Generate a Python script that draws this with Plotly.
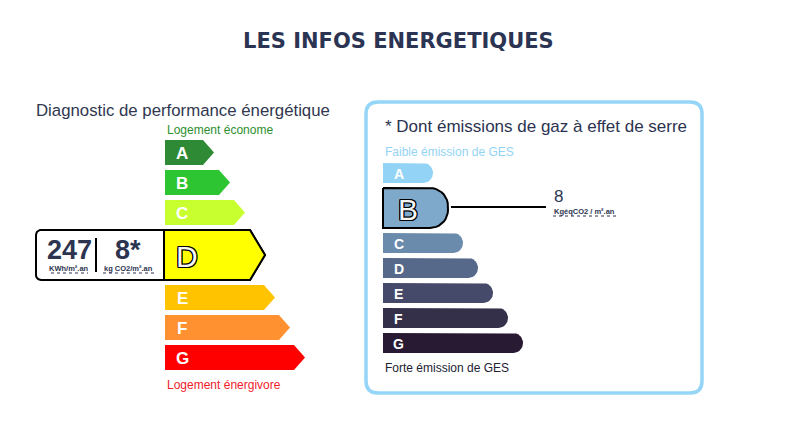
import numpy as np
import plotly.graph_objects as go

# ---------------- data ----------------
title_text = "LES INFOS ENERGETIQUES"
dpe_title = "Diagnostic de performance énergétique"
dpe_classes = ["A", "B", "C", "D", "E", "F", "G"]
dpe_lengths = [49, 65, 80, 100, 110, 125, 140]
dpe_colors = ["#2e8a34", "#2dc531", "#c7ff2f", "#ffff00", "#ffc300", "#ff9130", "#ff0000"]
dpe_rating = "D"
energy_value = "247"
energy_unit = "KWh/m².an"
ges_value_star = "8*"
ges_unit_short = "kg CO2/m².an"

ges_title = "* Dont émissions de gaz à effet de serre"
ges_classes = ["A", "B", "C", "D", "E", "F", "G"]
ges_lengths = [50, 65, 80, 95, 110, 125, 140]
ges_colors = ["#93d4f6", "#7ea9cb", "#6b8bac", "#56698a", "#45496a", "#34304a", "#291a33"]
ges_rating = "B"
ges_value = "8"
ges_unit = "KgéqCO2 / m².an"

FONT = "Liberation Sans, Arial, sans-serif"
NAVY = "#2c3450"
OUTLINE = ("1px 1px 0 #000, -1px -1px 0 #000, 1px -1px 0 #000, -1px 1px 0 #000, "
           "0 1px 0 #000, 0 -1px 0 #000, 1px 0 0 #000, -1px 0 0 #000")

# the page body has an 8px margin: axes are offset so that 1 unit = 1 page pixel
OFF = 8
W, H = 806 - 2 * OFF, 447 - 2 * OFF

fig = go.Figure()
ann = []


def poly(xs, ys, fill, line_color=None, line_width=0):
    fig.add_trace(go.Scatter(
        x=list(xs) + [xs[0]], y=list(ys) + [ys[0]], mode="lines", fill="toself",
        fillcolor=fill,
        line=dict(color=line_color or fill, width=line_width if line_color else 0),
        hoverinfo="skip", showlegend=False))


def text(x, y, s, size, color, xanchor="left", bold=False, family=FONT, shadow=None):
    f = dict(size=size, color=color, family=family)
    if bold:
        f["weight"] = "bold"
    if shadow:
        f["shadow"] = shadow
    ann.append(dict(x=x, y=y, xref="x", yref="y", text=s, showarrow=False,
                    xanchor=xanchor, yanchor="middle", font=f))


def arc(cx, cy, r, a0, a1, n=10):
    t = np.radians(np.linspace(a0, a1, n))
    return list(cx + r * np.cos(t)), list(cy + r * np.sin(t))


def dotted(xa, xb, yy):
    fig.add_trace(go.Scatter(x=[xa, xb], y=[yy, yy], mode="lines",
                             line=dict(color=NAVY, width=1, dash="dot"),
                             hoverinfo="skip", showlegend=False))


# ---------------- title ----------------
text(398, 41, title_text, 21, "#2b3453", xanchor="center", bold=True,
     family="DejaVu Sans, sans-serif")

# ---------------- DPE (left) ----------------
text(34, 110, dpe_title, 16.8, "#30374f")
text(165, 130, "Logement économe", 12, "#2d8f2d")

x0 = 165
y = 140
for cls, L, col in zip(dpe_classes, dpe_lengths, dpe_colors):
    hl = cls == dpe_rating
    h = 50 if hl else 25
    tip = 15 if hl else 11
    top, bot, mid = y, y + h, y + h / 2
    if hl:
        bx0, r = 36, 5
        xs = [bx0 + r, x0 + L - tip, x0 + L, x0 + L - tip]
        ys = [top, top, mid, bot]
        ax, ay = arc(bx0 + r, bot - r, r, 90, 180)
        xs += ax
        ys += ay
        ax, ay = arc(bx0 + r, top + r, r, 180, 270)
        xs += ax
        ys += ay
        poly(xs, ys, "#ffffff", "#000000", 2)
        poly([x0 - 1, x0 + L - tip, x0 + L, x0 + L - tip, x0 - 1],
             [top, top, mid, bot, bot], col, "#000000", 2)
        fig.add_trace(go.Scatter(x=[96, 96], y=[top + 8, bot - 8], mode="lines",
                                 line=dict(color="#000000", width=2),
                                 hoverinfo="skip", showlegend=False))
        text(69, mid - 5, energy_value, 27, NAVY, xanchor="center", bold=True)
        text(69, mid + 13, energy_unit, 7.5, NAVY, xanchor="center", bold=True)
        text(128, mid - 5, ges_value_star, 27, NAVY, xanchor="center", bold=True)
        text(128, mid + 13, ges_unit_short, 7.5, NAVY, xanchor="center", bold=True)
        dotted(51, 88, mid + 18)
        dotted(103, 154, mid + 18)
        text(187, mid + 1, cls, 30, "#f6f6f6", xanchor="center", shadow=OUTLINE)
    else:
        poly([x0, x0 + L - tip, x0 + L, x0 + L - tip, x0],
             [top, top, mid, bot, bot], col)
        text(182, mid + 1, cls, 17, "#ffffff", xanchor="center", bold=True)
    y = bot + 5

text(165, 385, "Logement énergivore", 12, "#f0202a")

# ---------------- GES (right) panel ----------------
px0, py0, px1, py1, pr = 366, 102, 702, 393, 12
fig.add_shape(type="path", xref="x", yref="y",
              path=(f"M {px0+pr},{py0} L {px1-pr},{py0} Q {px1},{py0} {px1},{py0+pr} "
                    f"L {px1},{py1-pr} Q {px1},{py1} {px1-pr},{py1} L {px0+pr},{py1} "
                    f"Q {px0},{py1} {px0},{py1-pr} L {px0},{py0+pr} Q {px0},{py0} {px0+pr},{py0} Z"),
              line=dict(color="#95d5f7", width=3.5), fillcolor="rgba(0,0,0,0)", layer="below")

text(383, 126, ges_title, 17, "#2b3350")
text(383, 152, "Faible émission de GES", 12, "#93d4f6")

gx0 = 383
y = 163
for cls, L, col in zip(ges_classes, ges_lengths, ges_colors):
    hl = cls == ges_rating
    h = 40 if hl else 20
    r = 18 if hl else 10
    top, bot, mid = y, y + h, y + h / 2
    x1 = gx0 + L
    xs, ys = [gx0, x1 - r], [top, top]
    ax, ay = arc(x1 - r, top + r, r, -90, 0)
    xs += ax
    ys += ay
    ax, ay = arc(x1 - r, bot - r, r, 0, 90)
    xs += ax
    ys += ay
    xs += [gx0]
    ys += [bot]
    if hl:
        poly(xs, ys, col, "#000000", 2)
        text(408, mid + 1, cls, 30, "#f6f6f6", xanchor="center", shadow=OUTLINE)
        fig.add_trace(go.Scatter(x=[x1 + 3, 546], y=[mid - 1, mid - 1], mode="lines",
                                 line=dict(color="#000000", width=2),
                                 hoverinfo="skip", showlegend=False))
        text(552, mid - 12, ges_value, 17, NAVY)
        text(552, mid + 3, ges_unit, 7.5, NAVY, bold=True)
        dotted(553, 617, mid + 8)
    else:
        poly(xs, ys, col)
        text(398.5, mid + 0.5, cls, 14, "#ffffff", xanchor="center", bold=True)
    y = bot + 5

text(383, 368, "Forte émission de GES", 12, "#222233")

fig.update_layout(
    width=W, height=H, margin=dict(l=0, r=0, t=0, b=0),
    paper_bgcolor="#ffffff", plot_bgcolor="#ffffff",
    xaxis=dict(range=[OFF, OFF + W], visible=False, fixedrange=True),
    yaxis=dict(range=[OFF + H, OFF], visible=False, fixedrange=True),
    annotations=ann, showlegend=False,
)
fig.write_html("out.html", config={"displayModeBar": False})
